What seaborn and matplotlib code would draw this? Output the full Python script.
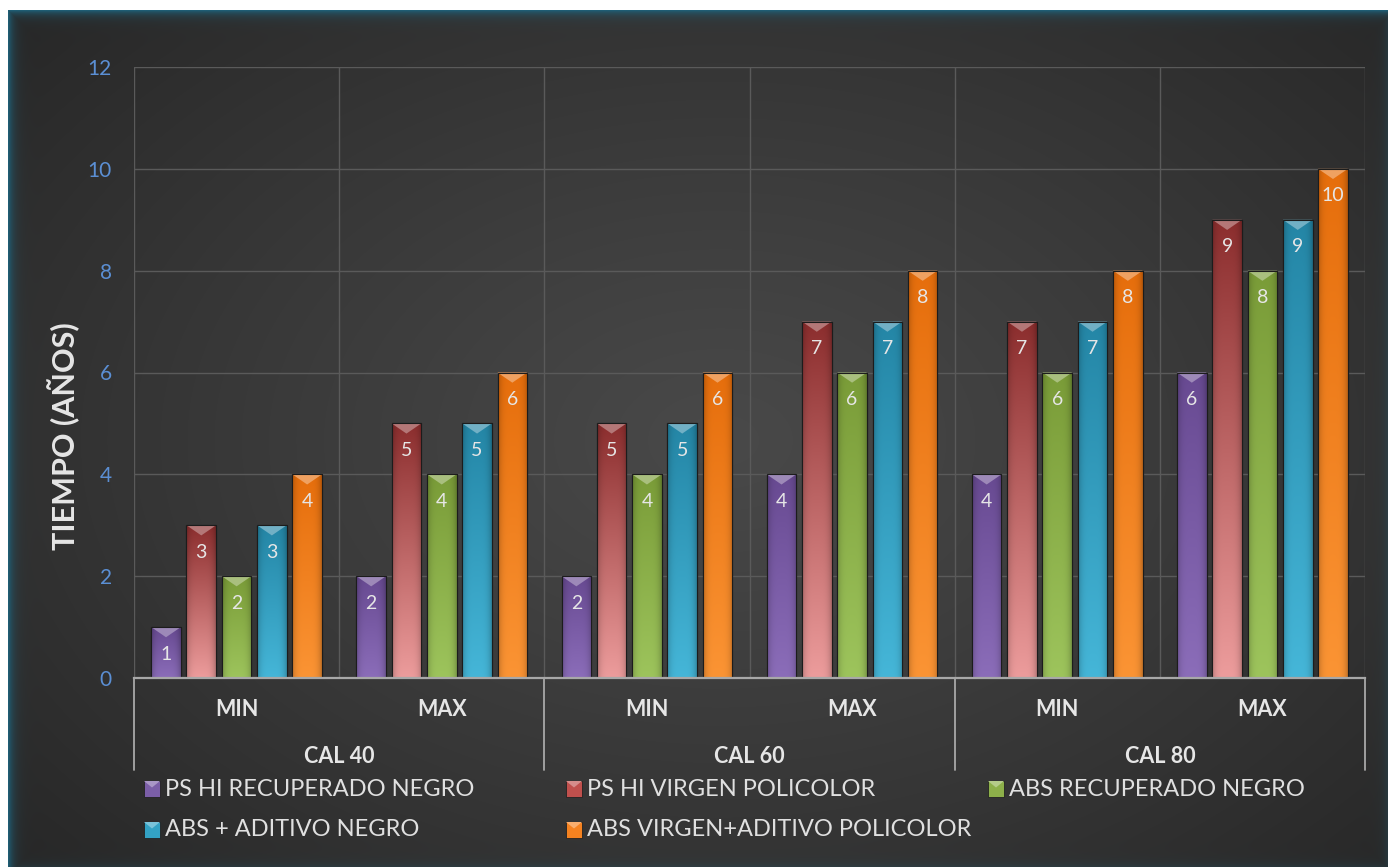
import numpy as np
import pandas as pd
import matplotlib.pyplot as plt
import matplotlib.transforms as mtransforms
from matplotlib.colors import to_rgb
from matplotlib.patches import Polygon, Rectangle
import seaborn as sns

grupos = ['CAL 40', 'CAL 60', 'CAL 80']
niveles = ['MIN', 'MAX']
series = ['PS HI RECUPERADO NEGRO', 'PS HI VIRGEN POLICOLOR', 'ABS RECUPERADO NEGRO',
          'ABS + ADITIVO NEGRO', 'ABS VIRGEN+ADITIVO POLICOLOR']
ps_hi_recuperado = [1, 2, 2, 4, 4, 6]
ps_hi_virgen = [3, 5, 5, 7, 7, 9]
abs_recuperado = [2, 4, 4, 6, 6, 8]
abs_aditivo = [3, 5, 5, 7, 7, 9]
abs_virgen_aditivo = [4, 6, 6, 8, 8, 10]
y_ticks = [0, 2, 4, 6, 8, 10, 12]

colores = ['#7b5ea7', '#c0504d', '#8db04a', '#33a2c4', '#f58220']
# colores de arriba / abajo del degradado de cada barra
colores_arriba = ['#684a92', '#8c2e2e', '#7a9c38', '#2486a6', '#e66e0c']
colores_abajo = ['#8b6db9', '#ec9c9c', '#9dc45c', '#45b6d8', '#fb9434']

posiciones = [f'{g} {n}' for g in grupos for n in niveles]
valores = [ps_hi_recuperado, ps_hi_virgen, abs_recuperado, abs_aditivo, abs_virgen_aditivo]
df = pd.DataFrame({
    'pos': np.tile(posiciones, len(series)),
    'serie': np.repeat(series, len(posiciones)),
    'valor': np.concatenate(valores),
})

sns.set_theme(style='white')
plt.rcParams['font.family'] = ['Lato', 'DejaVu Sans']

W, H = 1388, 867
fig = plt.figure(figsize=(W / 100, H / 100), dpi=100)

# fondo: degradado radial oscuro + marco con brillo turquesa
bg = fig.add_axes([0, 0, 1, 1], zorder=-5)
yy, xx = np.mgrid[0:H, 0:W].astype(float)
r = np.clip(np.sqrt(((xx - 720) / 950) ** 2 + ((yy - 440) / 640) ** 2), 0, 1)
gris = (0x49 - (0x49 - 0x27) * r ** 1.1) / 255
img = np.dstack([gris, gris, gris])
fl, ft, fr, fb = 8, 10, 1394, 874
d = np.minimum.reduce([xx - fl, yy - ft, fr - xx, fb - yy])
teal = np.array(to_rgb('#1f6078'))
a = np.where(d >= 0, np.exp(-np.clip(d, 0, None) / 5.0) * 0.95, 0)[..., None]
img = img * (1 - a) + teal * a
img[d < 0] = 1.0
bg.imshow(img, extent=(0, W, H, 0), interpolation='bilinear')
bg.set_xlim(0, W)
bg.set_ylim(H, 0)
bg.set_axis_off()

ax = fig.add_axes([134 / W, 1 - 678 / H, (1365 - 134) / W, (678 - 67) / H])
ax.patch.set_alpha(0)

sns.barplot(data=df, x='pos', y='valor', hue='serie', palette=colores,
            width=0.86, gap=0.16, edgecolor='#1c1c1c', linewidth=0.8,
            ax=ax, legend=False, zorder=3)


def mezcla(c, otro, t):
    c, otro = np.array(to_rgb(c)), np.array(to_rgb(otro))
    return c * (1 - t) + otro * t


rgb_base = [np.array(to_rgb(c)) for c in colores]
for patch in list(ax.patches):
    fc = np.array(patch.get_facecolor()[:3])
    k = int(np.argmin([np.sum((fc - c) ** 2) for c in rgb_base]))
    x0, w, h = patch.get_x(), patch.get_width(), patch.get_height()
    if h <= 0:
        continue
    # degradado vertical y sombreado lateral
    t = np.linspace(0, 1, 64)[:, None]
    u = np.linspace(0, 1, 32)[None, :]
    vert = np.array(to_rgb(colores_abajo[k])) * (1 - t[..., None]) + np.array(to_rgb(colores_arriba[k])) * t[..., None]
    lado = 1 - 0.22 * np.abs(2 * u - 1) ** 4
    arr = np.clip(vert * lado[..., None], 0, 1)
    im = ax.imshow(arr, extent=(x0, x0 + w, 0, h), origin='lower', aspect='auto',
                   interpolation='bilinear', zorder=3.2)
    im.set_clip_path(patch)
    # bisel superior
    ax.add_patch(Polygon([(x0, h), (x0 + w, h), (x0 + w / 2, h - 0.2)], closed=True,
                         facecolor=mezcla(colores_arriba[k], '#ffffff', 0.35),
                         edgecolor='none', zorder=3.5))
    ax.add_patch(Rectangle((x0, 0), w, h, fill=False, edgecolor='#1c1c1c', lw=0.8, zorder=3.6))
    ax.text(x0 + w / 2, h - 0.53, f'{h:.0f}', ha='center', va='center',
            color='#e6e6e6', fontsize=14, zorder=5)

ax.set_xlim(-0.5, 5.5)
ax.set_ylim(0, 12)
ax.set_yticks(y_ticks)
ax.set_yticklabels([str(v) for v in y_ticks], color='#5b8fd4', fontsize=15)
ax.set_xticks(np.arange(-0.5, 6.0, 1.0))
ax.set_xticklabels([])
ax.tick_params(axis='both', length=0)
ax.tick_params(axis='y', pad=16)
ax.set_xlabel('')
ax.set_ylabel('')
ax.grid(True, color='#5a5a5a', lw=1)
ax.set_axisbelow(True)
for s in ['left', 'top', 'right']:
    ax.spines[s].set_visible(False)
ax.spines['bottom'].set_color('#a8a8a8')
ax.spines['bottom'].set_linewidth(1.6)
ax.spines['bottom'].set_zorder(6)

# etiquetas de categoria en dos niveles
trans = mtransforms.blended_transform_factory(ax.transData, ax.transAxes)
for i, pos in enumerate(posiciones):
    ax.text(i, -0.051, niveles[i % 2], transform=trans, ha='center', va='center',
            fontsize=15.5, fontweight='bold', color='#e6e6e6')
for g, grupo in enumerate(grupos):
    ax.text(2 * g + 0.5, -0.129, grupo, transform=trans, ha='center', va='center',
            fontsize=15.5, fontweight='bold', color='#e6e6e6')
for b in [-0.5, 1.5, 3.5, 5.5]:
    ax.plot([b, b], [0, -0.151], transform=trans, color='#a8a8a8', lw=1.3, clip_on=False)

fig.text(64 / W, 1 - 436 / H, 'TIEMPO (AÑOS)', rotation=90, ha='center', va='center',
         fontsize=22, fontweight='bold', color='#e6e6e6')

# leyenda (filas de 3 columnas fijas, como en Excel)
col_x = [144, 566, 988]
fila_y = [789, 830]
for i, nombre in enumerate(series):
    cx, cy = col_x[i % 3], fila_y[i // 3]
    bg.add_patch(Rectangle((cx, cy - 8), 16, 16, facecolor=colores[i],
                           edgecolor='#222222', lw=0.6, zorder=2))
    bg.add_patch(Polygon([(cx, cy - 8), (cx + 16, cy - 8), (cx + 8, cy - 1.5)], closed=True,
                         facecolor=mezcla(colores[i], '#ffffff', 0.35), edgecolor='none', zorder=3))
    bg.text(cx + 21, cy, nombre, ha='left', va='center', fontsize=17, color='#e0e0e0', zorder=3)

fig.savefig('out.png', dpi=100)
